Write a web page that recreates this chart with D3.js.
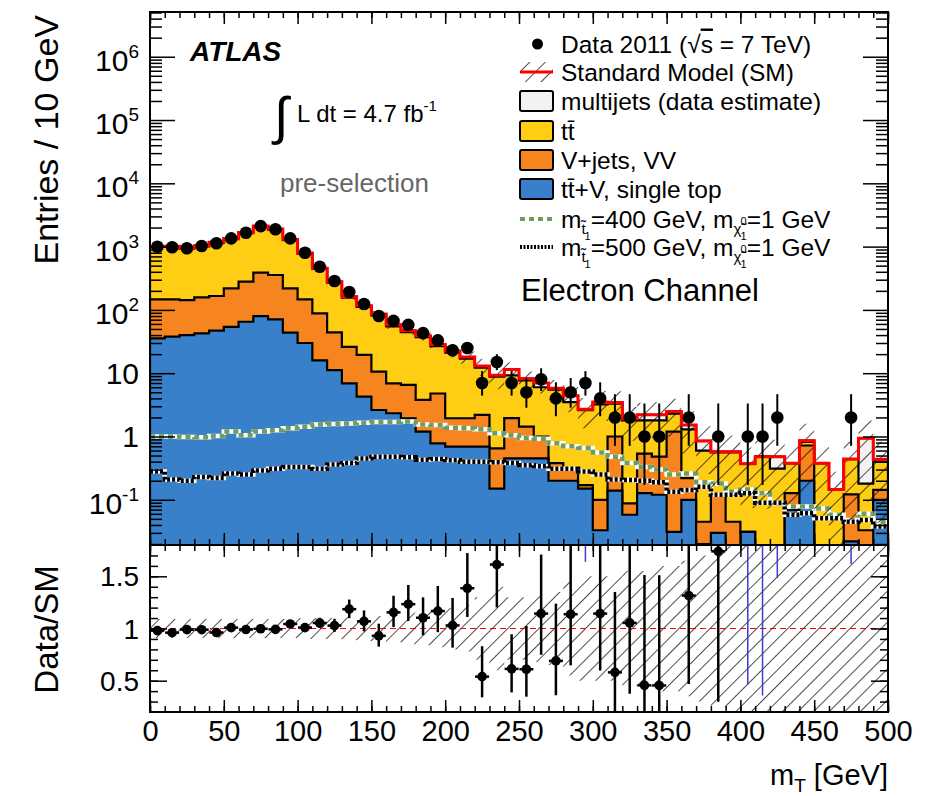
<!DOCTYPE html>
<html>
<head>
<meta charset="utf-8">
<script src="https://cdn.jsdelivr.net/npm/d3@7"></script>
<style>
body { margin: 0; background: #fff; }
svg text { font-family: "Liberation Sans", Arial, Helvetica, sans-serif; fill: #000; }
</style>
</head>
<body>
<script>
"use strict";
var svg_width = 940;
var svg_height = 796;

//---binning: 50 bins of 10 GeV in mT
var bin_width = 10;
var bin_low = d3.range(0, 500, bin_width);
var x_ticks = [0, 50, 100, 150, 200, 250, 300, 350, 400, 450, 500];
var y_main_ticks = [1e-1, 1, 10, 1e2, 1e3, 1e4, 1e5, 1e6];
var y_main_labels = [["10", "-1"], ["1", ""], ["10", ""], ["10", "2"], ["10", "3"], ["10", "4"], ["10", "5"], ["10", "6"]];
var y_ratio_ticks = [0.5, 1, 1.5];
var y_ratio_labels = ["0.5", "1", "1.5"];

//---observed events per bin
var data_2011 = [995, 975, 940, 1020, 1130, 1350, 1660, 2110, 1880, 1350,
                 800, 480, 286, 192, 124, 80, 67, 58, 43, 33,
                 23, 25, 7, 15, 7, 5, 8, 4, 5, 7,
                 4, 2, 2, 1, 1, 0, 2, 0, 1, 0,
                 1, 1, 2, 0, 0, 0, 0, 2, 0, 0];

//---backgrounds (stack order bottom -> top)
var ttv_single_top = [35.6, 37.7, 40, 42.7, 46.9, 54, 65, 80, 71, 43.7,
                      30, 16, 11.2, 6.9, 4.25, 2.62, 2.33, 1.94, 1.19, 0.78,
                      0.69, 0.69, 0.69, 0.15, 0.45, 0.45, 0.45, 0.2, 0.2, 0.15,
                      0.033, 0.14, 0.058, 0.127, 0.12, 0.031, 0.1, 0.02, 0.03, 0,
                      0.031, 0, 0, 0.069, 0.2, 0, 0, 0.022, 0, 0.1];
var vjets_vv = [111, 109, 103, 115, 119, 165, 214, 307, 285, 175,
                117, 72, 33, 19.1, 15.2, 8.0, 4.6, 4.6, 2.6, 4.0,
                1.25, 1.25, 1.5, 0.5, 1.5, 0.98, 0.55, 0.18, 0.1, 0.02,
                0.067, 0.86, 0.03, 0.41, 0.36, 1.16, 0.12, 0.025, 0.09, 0.045,
                0, 0, 0, 0.058, 0.52, 0, 0, 0.1, 0.033, 0.043];
var ttbar = [844, 844, 783, 848, 980, 1087, 1356, 1678, 1493, 1043,
             626, 356, 226, 130, 91.6, 71.4, 48.1, 38, 33.2, 22,
             19.2, 15.1, 10, 8.15, 7.26, 6.27, 5.0, 5.12, 3.2, 2.43,
             3.1, 2.3, 1.71, 1.26, 1.32, 1.11, 1.08, 0.555, 0.44, 0.515,
             0.34, 0.48, 0.31, 0.25, 0.1, 0.377, 0.146, 0.318, 0.147, 0.257];
var multijets = [25, 25, 24, 26, 29, 33, 42, 50, 47, 32,
                 20, 12, 8, 6, 5, 4, 3, 2.5, 2, 1.5,
                 1.2, 1.0, 0.8, 0.5, 2.2, 0.5, 1.0, 0.3, 0.9, 0.1,
                 0.3, 0.15, 0.1, 0.4, 0.4, 0.17, 0.22, 0.25, 0.015, 0.015,
                 0, 0, 0.17, 0, 0.04, 0, 0, 0, 0.76, 0.035];

//---relative uncertainty on the SM prediction
var sm_unc = [0.09, 0.09, 0.09, 0.09, 0.09, 0.09, 0.09, 0.09, 0.09, 0.09,
              0.1, 0.1, 0.1, 0.11, 0.12, 0.12, 0.13, 0.15, 0.16, 0.18,
              0.2, 0.22, 0.3, 0.4, 0.3, 0.3, 0.32, 0.35, 0.45, 0.5,
              0.5, 0.5, 0.55, 0.55, 0.6, 0.6, 0.65, 0.7, 0.75, 0.8,
              0.8, 0.85, 0.85, 0.85, 0.85, 0.85, 0.9, 0.9, 0.9, 0.9];

//---signal points
var stop_400 = [1.0, 1.0, 0.98, 0.97, 1.02, 1.2, 1.05, 1.2, 1.25, 1.35,
                1.42, 1.55, 1.58, 1.6, 1.65, 1.7, 1.7, 1.72, 1.55, 1.52,
                1.38, 1.35, 1.3, 1.12, 1.05, 0.95, 0.92, 0.78, 0.7, 0.66,
                0.56, 0.48, 0.38, 0.33, 0.3, 0.25, 0.26, 0.19, 0.18, 0.135,
                0.145, 0.127, 0.088, 0.078, 0.078, 0.073, 0.058, 0.048, 0.06, 0.045];
var stop_500 = [0.28, 0.21, 0.2, 0.23, 0.22, 0.26, 0.25, 0.29, 0.31, 0.33,
                0.33, 0.31, 0.36, 0.38, 0.45, 0.48, 0.48, 0.47, 0.43, 0.44,
                0.42, 0.4, 0.4, 0.39, 0.38, 0.35, 0.34, 0.31, 0.31, 0.28,
                0.25, 0.21, 0.205, 0.2, 0.19, 0.134, 0.143, 0.16, 0.12, 0.12,
                0.127, 0.09, 0.09, 0.058, 0.061, 0.051, 0.051, 0.045, 0.048, 0.038];

var col_ttbar = "#ffcd14";
var col_vjets = "#f6851f";
var col_ttv = "#3880c9";
var col_multijet = "#f2f2f2";
var col_stop400 = "#6d9d60";

//---frame geometry
var plot_left = 150, plot_right = 888;
var main_top = 12, main_bottom = 545;
var ratio_top = 545, ratio_bottom = 712;

var x = d3.scaleLinear().domain([0, 500]).range([plot_left, plot_right]);
var y = d3.scaleLog().domain([0.0193, 5.09e6]).range([main_bottom, main_top]).clamp(true);
var y_ratio = d3.scaleLinear().domain([0.2, 1.8]).range([ratio_bottom, ratio_top]);

//---cumulative stack levels
var cum_blue = ttv_single_top.map(function(v) { return v; });
var cum_orange = cum_blue.map(function(v, i) { return v + vjets_vv[i]; });
var cum_yellow = cum_orange.map(function(v, i) { return v + ttbar[i]; });
var sm_total = cum_yellow.map(function(v, i) { return v + multijets[i]; });

//---Gehrels approximation to the Poisson 68% interval
function poissonLow(n)
{
    if(n <= 0) return 0;
    var t = 1 - 1/(9*n) - 1/(3*Math.sqrt(n));
    return n*t*t*t;
}
function poissonHigh(n)
{
    return n + Math.sqrt(n + 0.75) + 1;
}

function ym(v) { return y(Math.max(v, 1e-4)); }

function stepPoints(vals, scale)
{
    var pts = [];
    vals.forEach(function(v, i)
    {
        pts.push([x(bin_low[i]), scale(v)]);
        pts.push([x(bin_low[i] + bin_width), scale(v)]);
    });
    return pts;
}
function stepLine(vals, scale)
{
    return "M" + stepPoints(vals, scale).join("L");
}
function filledStep(vals)
{
    return "M" + x(0) + "," + main_bottom + "L" + stepPoints(vals, ym).join("L") +
           "L" + x(500) + "," + main_bottom + "Z";
}
function bandPath(lo, hi, scale)
{
    var up = stepPoints(hi, scale);
    var dn = stepPoints(lo, scale).reverse();
    return "M" + up.join("L") + "L" + dn.join("L") + "Z";
}

var svg = d3.select("body").append("svg")
    .attr("width", svg_width)
    .attr("height", svg_height);

var defs = svg.append("defs");
defs.append("clipPath").attr("id", "clip-main")
    .append("rect").attr("x", plot_left).attr("y", main_top)
    .attr("width", plot_right - plot_left).attr("height", main_bottom - main_top);
defs.append("clipPath").attr("id", "clip-ratio")
    .append("rect").attr("x", plot_left).attr("y", ratio_top)
    .attr("width", plot_right - plot_left).attr("height", ratio_bottom - ratio_top);
var hatch = defs.append("pattern").attr("id", "hatch")
    .attr("patternUnits", "userSpaceOnUse")
    .attr("width", 11).attr("height", 11)
    .attr("patternTransform", "rotate(45)");
hatch.append("line").attr("x1", 0).attr("y1", 0).attr("x2", 0).attr("y2", 11)
    .attr("stroke", "#000").attr("stroke-width", 1.4);

//---------------- main panel ----------------
var main = svg.append("g").attr("clip-path", "url(#clip-main)");

var layers = [[sm_total, col_multijet], [cum_yellow, col_ttbar], [cum_orange, col_vjets], [cum_blue, col_ttv]];
layers.forEach(function(l)
{
    main.append("path")
        .attr("d", filledStep(l[0]))
        .attr("fill", l[1])
        .attr("stroke", "#000")
        .attr("stroke-width", 2.2)
        .attr("stroke-linejoin", "miter");
});

//---signal lines: white under-line with dashes on top
function signalLine(vals, color, dash)
{
    main.append("path").attr("d", stepLine(vals, ym))
        .attr("fill", "none").attr("stroke", "#fff").attr("stroke-width", 4.5);
    main.append("path").attr("d", stepLine(vals, ym))
        .attr("fill", "none").attr("stroke", color).attr("stroke-width", 4.5)
        .attr("stroke-dasharray", dash);
}
signalLine(stop_400, col_stop400, "5,4");
signalLine(stop_500, "#000", "3,2");

var sm_lo = sm_total.map(function(v, i) { return v*(1 - sm_unc[i]); });
var sm_hi = sm_total.map(function(v, i) { return v*(1 + sm_unc[i]); });
main.append("path").attr("d", bandPath(sm_lo, sm_hi, ym)).attr("fill", "url(#hatch)");

main.append("path").attr("d", stepLine(sm_total, ym))
    .attr("fill", "none").attr("stroke", "#ff0000").attr("stroke-width", 3);

var points = data_2011.map(function(n, i)
{
    return {n: n, i: i, lo: poissonLow(n), hi: poissonHigh(n), sm: sm_total[i]};
}).filter(function(d) { return d.n > 0; });

main.selectAll("line.err").data(points).enter().append("line")
    .attr("class", "err")
    .attr("x1", function(d) { return x(bin_low[d.i] + bin_width/2); })
    .attr("x2", function(d) { return x(bin_low[d.i] + bin_width/2); })
    .attr("y1", function(d) { return ym(d.lo); })
    .attr("y2", function(d) { return ym(d.hi); })
    .attr("stroke", "#000").attr("stroke-width", 2);
main.selectAll("circle.pt").data(points).enter().append("circle")
    .attr("class", "pt")
    .attr("cx", function(d) { return x(bin_low[d.i] + bin_width/2); })
    .attr("cy", function(d) { return ym(d.n); })
    .attr("r", 6.3)
    .attr("fill", "#000");

//---------------- ratio panel ----------------
var ratio = svg.append("g").attr("clip-path", "url(#clip-ratio)");
var r_lo = sm_unc.map(function(u) { return 1 - u; });
var r_hi = sm_unc.map(function(u) { return 1 + u; });
ratio.append("path").attr("d", bandPath(r_lo, r_hi, y_ratio)).attr("fill", "url(#hatch)");
ratio.append("line")
    .attr("x1", plot_left).attr("x2", plot_right)
    .attr("y1", y_ratio(1)).attr("y2", y_ratio(1))
    .attr("stroke", "#ff0000").attr("stroke-width", 1.2).attr("stroke-dasharray", "6,4");

points.forEach(function(d)
{
    var r = d.n/d.sm;
    var cx = x(bin_low[d.i] + bin_width/2);
    if(r > 1.8)
    {
        //---point above the range: only the error bar, drawn in blue
        ratio.append("line").attr("x1", cx).attr("x2", cx)
            .attr("y1", y_ratio(1.8)).attr("y2", y_ratio(Math.min(d.lo/d.sm, 1.8)))
            .attr("stroke", "#3c3ccf").attr("stroke-width", 1.5);
        return;
    }
    ratio.append("line").attr("x1", cx).attr("x2", cx)
        .attr("y1", y_ratio(d.lo/d.sm)).attr("y2", y_ratio(d.hi/d.sm))
        .attr("stroke", "#000").attr("stroke-width", 2.5);
    ratio.append("line").attr("x1", cx - 7).attr("x2", cx + 7)
        .attr("y1", y_ratio(r)).attr("y2", y_ratio(r))
        .attr("stroke", "#000").attr("stroke-width", 2.5);
    ratio.append("circle").attr("cx", cx).attr("cy", y_ratio(r)).attr("r", 4.8).attr("fill", "#000");
});

//---------------- frames and ticks ----------------
function tickAxis(g_axis, scale, values, size)
{
    var a = g_axis.call(scale.tickValues(values).tickSize(size).tickFormat(""));
    a.select(".domain").remove();
    a.selectAll("line").attr("stroke", "#000").attr("stroke-width", 1.5);
}
var minor_x = d3.range(0, 501, 10);
var minor_y = [];
[-2, -1, 0, 1, 2, 3, 4, 5, 6].forEach(function(p)
{
    for(var k = 2; k <= 9; k++) { minor_y.push(k*Math.pow(10, p)); }
});
minor_y = minor_y.filter(function(v) { return v > 0.0193 && v < 5.09e6; });
var minor_r = d3.range(0.3, 1.75, 0.1).map(function(v) { return +v.toFixed(1); });

[[main_top, main_bottom], [ratio_top, ratio_bottom]].forEach(function(p)
{
    tickAxis(svg.append("g").attr("transform", "translate(0," + p[1] + ")"), d3.axisBottom(x), x_ticks, -12);
    tickAxis(svg.append("g").attr("transform", "translate(0," + p[1] + ")"), d3.axisBottom(x), minor_x, -6);
    tickAxis(svg.append("g").attr("transform", "translate(0," + p[0] + ")"), d3.axisTop(x), x_ticks, -12);
    tickAxis(svg.append("g").attr("transform", "translate(0," + p[0] + ")"), d3.axisTop(x), minor_x, -6);
});
tickAxis(svg.append("g").attr("transform", "translate(" + plot_left + ",0)"), d3.axisLeft(y), y_main_ticks, -25);
tickAxis(svg.append("g").attr("transform", "translate(" + plot_left + ",0)"), d3.axisLeft(y), minor_y, -12);
tickAxis(svg.append("g").attr("transform", "translate(" + plot_right + ",0)"), d3.axisRight(y), y_main_ticks, -25);
tickAxis(svg.append("g").attr("transform", "translate(" + plot_right + ",0)"), d3.axisRight(y), minor_y, -12);
tickAxis(svg.append("g").attr("transform", "translate(" + plot_left + ",0)"), d3.axisLeft(y_ratio), y_ratio_ticks, -17);
tickAxis(svg.append("g").attr("transform", "translate(" + plot_left + ",0)"), d3.axisLeft(y_ratio), minor_r, -8);
tickAxis(svg.append("g").attr("transform", "translate(" + plot_right + ",0)"), d3.axisRight(y_ratio), y_ratio_ticks, -17);
tickAxis(svg.append("g").attr("transform", "translate(" + plot_right + ",0)"), d3.axisRight(y_ratio), minor_r, -8);

svg.append("rect").attr("x", plot_left).attr("y", main_top)
    .attr("width", plot_right - plot_left).attr("height", main_bottom - main_top)
    .attr("fill", "none").attr("stroke", "#000").attr("stroke-width", 2);
svg.append("rect").attr("x", plot_left).attr("y", ratio_top)
    .attr("width", plot_right - plot_left).attr("height", ratio_bottom - ratio_top)
    .attr("fill", "none").attr("stroke", "#000").attr("stroke-width", 2);

//---------------- labels ----------------
var xlab = svg.append("g").attr("transform", "translate(0," + ratio_bottom + ")")
    .call(d3.axisBottom(x).tickValues(x_ticks).tickSize(0).tickPadding(8));
xlab.select(".domain").remove();
xlab.selectAll("text").attr("font-size", 29).attr("font-family", "Liberation Sans, Arial, sans-serif");

y_main_ticks.forEach(function(v, i)
{
    var t = svg.append("text").attr("x", 139).attr("y", y(v) + 11 + (y_main_labels[i][1] ? 3 : 0))
        .attr("text-anchor", "end").attr("font-size", 30);
    t.append("tspan").text(y_main_labels[i][0]);
    if(y_main_labels[i][1])
    {
        t.append("tspan").attr("dy", -13).attr("font-size", 19).text(y_main_labels[i][1]);
    }
});
y_ratio_ticks.forEach(function(v, i)
{
    svg.append("text").attr("x", 139).attr("y", y_ratio(v) + 10)
        .attr("text-anchor", "end").attr("font-size", 28).text(y_ratio_labels[i]);
});

svg.append("text").attr("transform", "translate(58,15) rotate(-90)")
    .attr("text-anchor", "end").attr("font-size", 34).text("Entries / 10 GeV");
svg.append("text").attr("transform", "translate(58," + (y_ratio(1) + 1) + ") rotate(-90)")
    .attr("text-anchor", "middle").attr("font-size", 33).text("Data/SM");
var mt = svg.append("text").attr("x", 888).attr("y", 785).attr("text-anchor", "end").attr("font-size", 29);
mt.append("tspan").text("m");
mt.append("tspan").attr("dy", 7).attr("font-size", 19).text("T");
mt.append("tspan").attr("dy", -7).text(" [GeV]");

svg.append("text").attr("x", 190).attr("y", 61).attr("font-size", 28)
    .attr("font-weight", "bold").attr("font-style", "italic").text("ATLAS");
svg.append("text").attr("x", 274).attr("y", 134).attr("font-size", 52).text("\u222B");
var lumi = svg.append("text").attr("x", 297).attr("y", 122).attr("font-size", 24);
lumi.append("tspan").text("L dt = 4.7 fb");
lumi.append("tspan").attr("dy", -11).attr("font-size", 15).text("-1");
svg.append("text").attr("x", 280).attr("y", 192).attr("font-size", 26)
    .style("fill", "#666").text("pre-selection");

//---------------- legend ----------------
var lg_x = 520, lg_w = 33, lg_text = 561;
var leg = svg.append("g");
function legText(yc)
{
    return leg.append("text").attr("x", lg_text).attr("y", yc + 8.5).attr("font-size", 24.5);
}
leg.append("circle").attr("cx", lg_x + lg_w/2 + 1).attr("cy", 44).attr("r", 5.5).attr("fill", "#000");
var t0 = legText(44);
t0.append("tspan").text("Data 2011 (\u221A");
t0.append("tspan").style("text-decoration", "overline").text("s");
t0.append("tspan").text(" = 7 TeV)");

leg.append("rect").attr("x", lg_x).attr("y", 62).attr("width", lg_w).attr("height", 20).attr("fill", "url(#hatch)");
leg.append("line").attr("x1", lg_x).attr("x2", lg_x + lg_w).attr("y1", 72).attr("y2", 72)
    .attr("stroke", "#ff0000").attr("stroke-width", 3);
legText(72).text("Standard Model (SM)");

var boxes = [[101, col_multijet, "multijets (data estimate)"], [131, col_ttbar, "t"], [160, col_vjets, "V+jets, VV"], [189, col_ttv, "t"]];
boxes.forEach(function(b)
{
    leg.append("rect").attr("x", lg_x).attr("y", b[0] - 10).attr("width", lg_w).attr("height", 20)
        .attr("rx", 2).attr("fill", b[1]).attr("stroke", "#000").attr("stroke-width", 2);
    legText(b[0]).text(b[2]);
});
//---t-tbar entries: second t carries a bar
[[131, ""], [189, "+V, single top"]].forEach(function(e)
{
    var t = legText(e[0]);
    t.append("tspan").attr("fill-opacity", 0).text("t");
    t.append("tspan").text("t\u0304" + e[1]);
});

leg.append("line").attr("x1", lg_x).attr("x2", lg_x + lg_w).attr("y1", 219).attr("y2", 219)
    .attr("stroke", col_stop400).attr("stroke-width", 4).attr("stroke-dasharray", "5,4");
leg.append("line").attr("x1", lg_x).attr("x2", lg_x + lg_w).attr("y1", 247).attr("y2", 247)
    .attr("stroke", "#000").attr("stroke-width", 4).attr("stroke-dasharray", "2,1.5");
[[219, "400"], [247, "500"]].forEach(function(e)
{
    var t = legText(e[0]);
    t.append("tspan").text("m");
    t.append("tspan").attr("dy", 6).attr("font-size", 15).text("t\u0303");
    t.append("tspan").attr("dy", 6).attr("dx", -1).attr("font-size", 11).text("1");
    t.append("tspan").attr("dy", -12).attr("font-size", 24.5).text("=" + e[1] + " GeV, m");
    t.append("tspan").attr("dy", 6).attr("font-size", 15).text("\u03C7\u0303");
    t.append("tspan").attr("dy", -9).attr("dx", -1).attr("font-size", 11).text("0");
    t.append("tspan").attr("dy", 15).attr("dx", -6).attr("font-size", 11).text("1");
    t.append("tspan").attr("dy", -12).attr("font-size", 24.5).text("=1 GeV");
});
leg.append("text").attr("x", 521).attr("y", 301).attr("font-size", 31).text("Electron Channel");
</script>
</body>
</html>
